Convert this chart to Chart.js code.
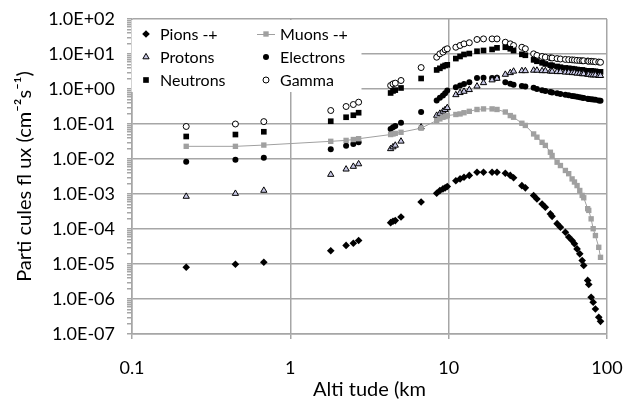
<!DOCTYPE html>
<html>
<head>
<meta charset="utf-8">
<script src="https://cdn.jsdelivr.net/npm/chart.js@4.4.1/dist/chart.umd.min.js"></script>
<style>
body{margin:0;background:#fff}
#Chart{display:block}
</style>
</head>
<body>
<canvas id="Chart" width="624" height="400"></canvas>
<script>
// altitudini (km)
const altitudes = [0.22, 0.45, 0.68, 1.8, 2.25, 2.5, 2.7, 4.3, 4.45, 4.6, 5.0, 6.7, 8.4, 8.8, 9.2, 9.5, 9.8,
  11.1, 11.8, 12.5, 13.5, 15.1, 16.6, 18.8, 20.2, 22.8, 24.5, 25.7, 29.0, 30.5, 34.4, 36.1, 38.9, 40.8,
  43.9, 45.0, 48.4, 50.8, 54.6, 57.3, 60.2, 62.3, 64.7, 67.3, 69.7, 71.3, 75.5, 76.7, 79.4, 81.8, 84.5, 88.7, 91.0]

// flussi (cm-2 s-1) per ogni particella
const pions = [8.1e-6, 9.8e-6, 1.12e-5, 2.4e-5, 3.4e-5, 3.9e-5, 4.7e-5, 1.52e-4, 1.66e-4, 1.74e-4, 2.2e-4, 5.9e-4,
  1.05e-3, 1.25e-3, 1.4e-3, 1.5e-3, 1.63e-3, 2.4e-3, 2.7e-3, 3.0e-3, 3.4e-3, 4.2e-3, 4.2e-3, 4.2e-3, 4.2e-3,
  3.9e-3, 3.4e-3, 2.9e-3, 1.73e-3, 1.5e-3, 9.1e-4, 7.2e-4, 5.2e-4, 4.2e-4, 2.7e-4, 2.3e-4, 1.42e-4, 1.13e-4,
  8.1e-5, 5.9e-5, 4.7e-5, 3.8e-5, 2.7e-5, 1.95e-5, 1.26e-5, 9.1e-6, 3.4e-6, 2.6e-6, 1.12e-6, 8.1e-7, 5.2e-7, 3.0e-7, 2.3e-7]
const muons = [0.023, 0.023, 0.025, 0.032, 0.034, 0.036, 0.038, 0.050, 0.052, 0.054, 0.058, 0.076,
  0.126, 0.14, 0.156, 0.163, 0.174, 0.187, 0.194, 0.21, 0.23, 0.26, 0.27, 0.27, 0.26,
  0.22, 0.174, 0.156, 0.105, 0.091, 0.052, 0.042, 0.030, 0.0245, 0.0156, 0.0126, 0.0081, 0.0065,
  0.0047, 0.0038, 0.0027, 0.0022, 0.00174, 0.00126, 0.00091, 0.00078, 0.00038, 0.00034, 0.000195, 0.000102, 6.5e-5, 3.0e-5, 1.55e-5]
const protons = [8.5e-4, 1.03e-3, 1.26e-3, 0.0036, 0.0051, 0.0061, 0.0072, 0.0195, 0.022, 0.0245, 0.032, 0.081,
  0.175, 0.2, 0.23, 0.255, 0.29, 0.68, 0.78, 0.85, 0.95, 1.2, 1.5, 1.8, 2.0,
  2.6, 2.9, 3.2, 3.3, 3.3, 3.4, 3.4, 3.3, 3.3, 3.2, 3.2, 3.1, 3.1,
  3.0, 3.0, 2.9, 2.9, 2.8, 2.8, 2.7, 2.7, 2.6, 2.6, 2.5, 2.5, 2.5, 2.4, 2.4]
const electrons = [0.0083, 0.0095, 0.0108, 0.019, 0.024, 0.027, 0.030, 0.072, 0.081, 0.087, 0.108, 0.22,
  0.47, 0.56, 0.65, 0.76, 0.91, 1.12, 1.25, 1.4, 1.56, 2.05, 2.1, 2.05, 2.1,
  1.56, 1.41, 1.32, 1.22, 1.18, 1.08, 1.0, 0.92, 0.88, 0.82, 0.80, 0.75, 0.72,
  0.68, 0.66, 0.63, 0.62, 0.60, 0.58, 0.56, 0.55, 0.53, 0.52, 0.51, 0.50, 0.49, 0.47, 0.46]
const neutrons = [0.044, 0.050, 0.060, 0.12, 0.156, 0.178, 0.21, 0.77, 0.88, 0.93, 1.07, 2.0,
  3.5, 3.9, 4.4, 4.7, 4.9, 7.4, 8.5, 9.7, 10.3, 12, 12.6, 13.5, 15,
  15.6, 14.1, 12.5, 9.8, 9.2, 6.8, 6.2, 5.6, 5.2, 4.8, 4.7, 4.4, 4.2,
  4.0, 3.9, 3.8, 3.7, 3.6, 3.5, 3.5, 3.4, 3.3, 3.3, 3.3, 3.2, 3.2, 3.1, 3.1]
const gamma = [0.085, 0.10, 0.117, 0.243, 0.316, 0.36, 0.42, 1.26, 1.40, 1.47, 1.75, 4.1,
  8.1, 10.1, 11.3, 13.2, 14.1, 15.6, 17.5, 19.5, 21, 26, 27, 27, 27,
  21.7, 19.5, 17.5, 15.6, 14.1, 10.1, 9.1, 8.5, 8.1, 7.8, 7.7, 7.4, 7.2,
  7.0, 6.9, 6.8, 6.7, 6.6, 6.5, 6.4, 6.4, 6.3, 6.2, 6.2, 6.1, 6.0, 5.9, 5.8]

// tick degli assi
const xTicks = [0.1, 1, 10, 100]
const yTicks = []
for (let e = -7; e < 2; e++) {
  for (let k = 1; k < 10; k++) yTicks.push(k * Math.pow(10, e))
}
yTicks.push(100)

const grigio = '#a6a6a6'
const grigioMuoni = '#a0a0a0'

Chart.defaults.font.family = 'Lato, "Open Sans", sans-serif'
Chart.defaults.font.size = 18
Chart.defaults.color = '#000'

function isMajor(v) {
  const l = Math.log10(v)
  return Math.abs(l - Math.round(l)) < 1e-6
}

function etichettaE(v) {
  const e = Math.round(Math.log10(v))
  return '1.0E' + (e < 0 ? '-' : '+') + String(Math.abs(e)).padStart(2, '0')
}

function punti(valori) {
  return altitudes.map((a, i) => ({x: a, y: valori[i]}))
}

// disegno dei simboli della legenda
function simbolo(ctx, tipo, x, y, r, fill, stroke) {
  ctx.beginPath()
  if (tipo === 'rectRot') {
    ctx.moveTo(x, y - r); ctx.lineTo(x + r, y); ctx.lineTo(x, y + r); ctx.lineTo(x - r, y)
  } else if (tipo === 'rect') {
    const s = r * Math.SQRT1_2
    ctx.rect(x - s, y - s, 2 * s, 2 * s)
  } else if (tipo === 'triangle') {
    ctx.moveTo(x, y - r)
    ctx.lineTo(x + r * Math.sin(2 * Math.PI / 3), y - r * Math.cos(2 * Math.PI / 3))
    ctx.lineTo(x + r * Math.sin(4 * Math.PI / 3), y - r * Math.cos(4 * Math.PI / 3))
  } else {
    ctx.arc(x, y, r, 0, Math.PI * 2)
  }
  ctx.closePath()
  ctx.fillStyle = fill
  ctx.fill()
  if (stroke) {
    ctx.lineWidth = 1
    ctx.strokeStyle = stroke
    ctx.stroke()
  }
}

// legenda dentro l'area del grafico, su due colonne
const legendaBox = {
  id: 'legendaBox',
  afterDraw(chart) {
    const ctx = chart.ctx
    const a = chart.chartArea
    ctx.save()
    ctx.fillStyle = '#fff'
    ctx.fillRect(a.left - 0.5, a.top + 1, 362 - a.left, 72)
    const posizioni = [[146, 34], [266, 34], [146, 57], [266, 57], [146, 80], [266, 80]]
    ctx.font = '16px Lato, "Open Sans", sans-serif'
    ctx.textBaseline = 'middle'
    chart.data.datasets.forEach((ds, i) => {
      const p = posizioni[i]
      if (ds.showLine) {
        ctx.strokeStyle = ds.borderColor
        ctx.lineWidth = 1
        ctx.beginPath()
        ctx.moveTo(p[0] - 9, p[1] + 0.5)
        ctx.lineTo(p[0] + 9, p[1] + 0.5)
        ctx.stroke()
      }
      simbolo(ctx, ds.pointStyle, p[0], p[1], ds.pointRadius, ds.backgroundColor, ds.pointBorderWidth ? ds.pointBorderColor : null)
      ctx.fillStyle = '#000'
      ctx.fillText(ds.label, p[0] + 14, p[1] + 1)
    })
    ctx.restore()
  }
}

const config = {
  type: 'scatter',
  data: {
    datasets: [
      {label: 'Pions -+', data: punti(pions), pointStyle: 'rectRot', pointRadius: 3.8,
        backgroundColor: '#000', pointBorderWidth: 0, pointBorderColor: '#000'},
      {label: 'Muons -+', data: punti(muons), pointStyle: 'rect', pointRadius: 3.8, showLine: true,
        borderColor: grigioMuoni, borderWidth: 1, backgroundColor: grigioMuoni, pointBorderWidth: 0, pointBorderColor: grigioMuoni},
      {label: 'Protons', data: punti(protons), pointStyle: 'triangle', pointRadius: 3.6,
        backgroundColor: '#c9c9e6', pointBorderWidth: 1, pointBorderColor: '#000'},
      {label: 'Electrons', data: punti(electrons), pointStyle: 'circle', pointRadius: 3,
        backgroundColor: '#000', pointBorderWidth: 0, pointBorderColor: '#000'},
      {label: 'Neutrons', data: punti(neutrons), pointStyle: 'rect', pointRadius: 4,
        backgroundColor: '#000', pointBorderWidth: 0, pointBorderColor: '#000'},
      {label: 'Gamma', data: punti(gamma), pointStyle: 'circle', pointRadius: 3,
        backgroundColor: '#fff', pointBorderWidth: 1, pointBorderColor: '#000'}
    ]
  },
  options: {
    responsive: false,
    animation: false,
    layout: {padding: {left: 0, right: 17, top: 19, bottom: 0}},
    plugins: {legend: {display: false}, tooltip: {enabled: false}},
    scales: {
      x: {
        type: 'logarithmic', min: 0.1, max: 100,
        afterBuildTicks: s => { s.ticks = xTicks.map(v => ({value: v})) },
        afterFit: s => { s.height = 66; s.paddingLeft = 0; s.paddingRight = 0 },
        ticks: {callback: v => String(v), padding: 18, autoSkip: false, maxRotation: 0},
        grid: {color: grigio, tickColor: grigio, tickLength: 5, lineWidth: 1.5},
        border: {color: grigio, width: 1.5},
        title: {display: true, text: 'Alti tude (km', font: {size: 20, lineHeight: 1}, padding: 0}
      },
      y: {
        type: 'logarithmic', min: 1e-7, max: 100,
        afterBuildTicks: s => { s.ticks = yTicks.map(v => ({value: v})) },
        afterFit: s => { s.width = 132; s.paddingTop = 0; s.paddingBottom = 0 },
        ticks: {callback: v => isMajor(v) ? etichettaE(v) : '', padding: 12, autoSkip: false},
        grid: {color: c => c.tick && isMajor(c.tick.value) ? grigio : 'rgba(0,0,0,0)', tickColor: grigio, tickLength: 5, lineWidth: 1.5},
        border: {color: grigio, width: 1.5},
        title: {display: true, text: 'Parti cules fl ux (cm⁻²s⁻¹)', font: {size: 20, lineHeight: 1}, padding: {top: 15, bottom: 0}}
      }
    }
  },
  plugins: [legendaBox]
}

const grafico = new Chart(document.querySelector('#Chart'), config)
</script>
</body>
</html>
